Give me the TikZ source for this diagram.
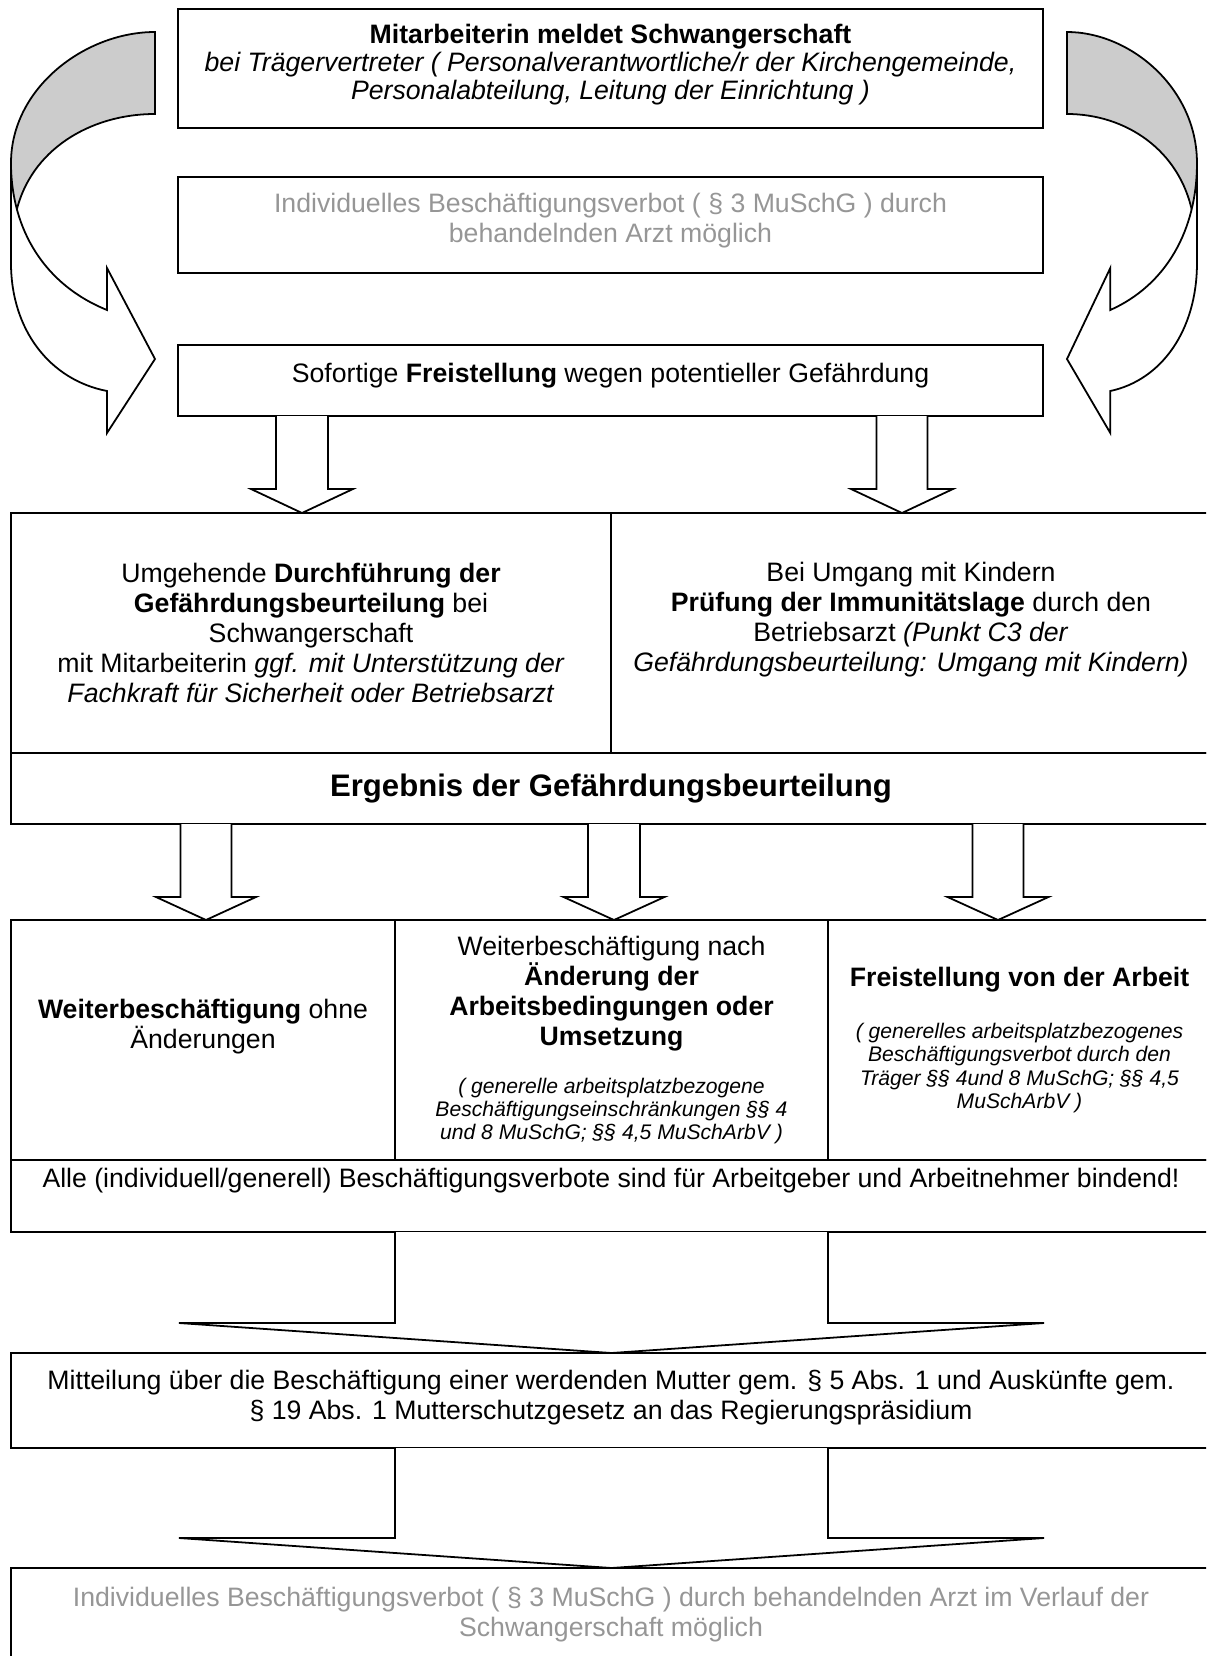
\documentclass[tikz,border=0pt]{standalone}
\usepackage{fontspec}
\setmainfont{Liberation Sans}
\usetikzlibrary{arrows,positioning,calc}

\definecolor{textgrau}{RGB}{150,150,150}
\definecolor{bandgrau}{RGB}{204,204,204}

\newcommand{\klein}{\fontsize{9.5}{10.5}\selectfont\itshape}

% Blockpfeil von #1 nach #2 bei x=#3, halbe Schaftbreite #4, halbe Kopfbreite #5, Kopflaenge #6
\newcommand{\blockpfeil}[6]{%
  \coordinate (kopf) at ($(#2.north)+(0,-#6)$);
  \draw [dickpfeil] (#3-#4,0 |- #1.south) -- (#3-#4,0 |- kopf) -- (#3-#5,0 |- kopf)
     -- (#3,0 |- #2.north) -- (#3+#5,0 |- kopf) -- (#3+#4,0 |- kopf) -- (#3+#4,0 |- #1.south);
}

\begin{document}
\begin{tikzpicture}[x=0.45pt,y=-0.45pt,align=center,
kasten/.style={rectangle,draw,line width=1pt,outer sep=0pt,inner sep=2pt,font=\fontsize{12}{13.5}\selectfont},
groesse/.style 2 args={minimum width=#1*0.45pt,minimum height=#2*0.45pt},
grau/.style={text=textgrau},
dickpfeil/.style={draw,fill=white,line width=0.8pt,line join=miter},
hinterband/.style={draw,fill=bandgrau,line width=0.8pt},
vorderband/.style={draw,fill=white,line width=0.8pt}
]
\path [use as bounding box,clip] (0,0) rectangle (1206,1656);

%% Nodes   %%%%%%%%%%%%%%%%%%%%%%%%%%%%%%%%%%%%%%%%%%%%%%%%%%%%%%%%%%%%%%%%%%%%%%%

%% Meldung
\node [kasten,groesse={865}{119},font=\fontsize{12}{12.6}\selectfont,text depth=6.1pt] (melden) at (610.5,68.5)
  {\textbf{Mitarbeiterin meldet Schwangerschaft}\\
   \textit{bei Trägervertreter ( Personalverantwortliche/r der Kirchengemeinde,}\\
   \textit{Personalabteilung, Leitung der Einrichtung )}};
\node [kasten,grau,groesse={865}{96},text depth=6.7pt] (arzt) at (610.5,225)
  {Individuelles Beschäftigungsverbot ( § 3 MuSchG ) durch\\ behandelnden Arzt möglich};
\node [kasten,groesse={865}{71},text depth=7.3pt] (sofort) at (610.5,380.5)
  {Sofortige \textbf{Freistellung} wegen potentieller Gefährdung};

%% Gefaehrdungsbeurteilung
\node [kasten,groesse={600}{240}] (gbu) at (311,633)
  {Umgehende \textbf{Durchführung der}\\
   \textbf{Gefährdungsbeurteilung} bei\\
   Schwangerschaft\\
   mit Mitarbeiterin \textit{ggf. mit Unterstützung der}\\
   \textit{Fachkraft für Sicherheit oder Betriebsarzt}};
\node [kasten,groesse={600}{240},text depth=14.8pt] (immun) [right =0pt of gbu]
  {Bei Umgang mit Kindern\\
   \textbf{Prüfung der Immunitätslage} durch den\\
   Betriebsarzt \textit{(Punkt C3 der}\\
   \textit{Gefährdungsbeurteilung: Umgang mit Kindern)}};
\node [kasten,groesse={1200}{71}] (ergebnis) at (611,788.5)
  {\fontsize{14}{16}\selectfont\textbf{Ergebnis der Gefährdungsbeurteilung}};

%% Ergebnisse
\node [kasten,groesse={384}{240},text depth=14.8pt] (weiter) at (203,1040)
  {\textbf{Weiterbeschäftigung} ohne\\ Änderungen};
\node [kasten,groesse={433}{240}] (aenderung) [right =0pt of weiter]
  {Weiterbeschäftigung nach\\
   \textbf{Änderung der}\\
   \textbf{Arbeitsbedingungen oder}\\
   \textbf{Umsetzung}\\[8pt]
   \klein ( generelle arbeitsplatzbezogene\\[-3pt]
   \klein Beschäftigungseinschränkungen §§ 4\\[-3pt]
   \klein und 8 MuSchG; §§ 4,5 MuSchArbV )};
\node [kasten,groesse={383}{240}] (frei) [right =0pt of aenderung]
  {\textbf{Freistellung von der Arbeit}\\[10pt]
   \klein ( generelles arbeitsplatzbezogenes\\[-3pt]
   \klein Beschäftigungsverbot durch den\\[-3pt]
   \klein Träger §§ 4und 8 MuSchG; §§ 4,5\\[-3pt]
   \klein MuSchArbV )};
\node [kasten,groesse={1200}{72},text depth=16.7pt] (alle) at (611,1196)
  {Alle (individuell/generell) Beschäftigungsverbote sind für Arbeitgeber und Arbeitnehmer bindend!};

%% Meldung an die Behoerde
\node [kasten,groesse={1200}{95},text depth=5.3pt] (mitteilung) at (611,1400.5)
  {Mitteilung über die Beschäftigung einer werdenden Mutter gem. § 5 Abs. 1 und Auskünfte gem.\\
   § 19 Abs. 1 Mutterschutzgesetz an das Regierungspräsidium};
\node [kasten,grau,groesse={1200}{110},text depth=10.1pt] (arztende) at (611,1623)
  {Individuelles Beschäftigungsverbot ( § 3 MuSchG ) durch behandelnden Arzt im Verlauf der\\
   Schwangerschaft möglich};


%% Pfeile %%%%%%%%%%%%%%%%%%%%%%%%%%%%%%%%%%%%%%%%%%%%%%%%%%%%%%%%%%%%%%%%%%%%%%%%%%

%% gebogene Pfeile links und rechts
\foreach \sx/\sh in {1/0, -0.9028/1206.9}
{
\begin{scope}[xshift=\sh*0.45pt, xscale=\sx]
\path [hinterband] (155,32) .. controls (85,32) and (11,88) .. (11,163) -- (11,213) -- (16,213)
   .. controls (30,150) and (90,114) .. (155,114) -- cycle;
\path [vorderband] (11,163) -- (11,263) .. controls (11,330) and (50,380) .. (107,391) -- (107,433)
   -- (155,359) -- (107,268) -- (107,310) .. controls (45,285) and (11,230) .. (11,163) -- cycle;
\end{scope}
}

%% Blockpfeile
\blockpfeil{sofort}{gbu}{302}{26}{51}{24}
\blockpfeil{sofort}{immun}{902}{25.5}{51}{24}

\blockpfeil{ergebnis}{weiter}{206}{25.5}{50}{23}
\blockpfeil{ergebnis}{aenderung}{614}{26}{50.5}{23}
\blockpfeil{ergebnis}{frei}{998}{25.5}{50.5}{23}

\blockpfeil{alle}{mitteilung}{611.5}{216.5}{432.5}{30}
\blockpfeil{mitteilung}{arztende}{611.5}{216.5}{432.5}{30}

\end{tikzpicture}
\end{document}
